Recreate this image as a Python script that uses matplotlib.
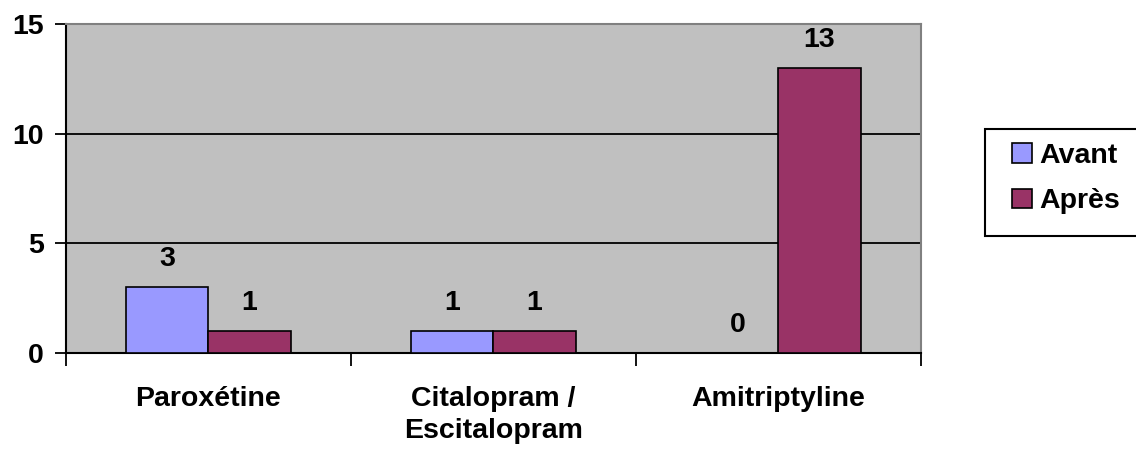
import numpy as np
import matplotlib
matplotlib.use("Agg")
import matplotlib.pyplot as plt
from matplotlib.patches import Rectangle

plt.rcParams['font.family'] = ['Liberation Sans', 'DejaVu Sans']
plt.rcParams['font.weight'] = 'bold'

# data
categories = ["Paroxétine", "Citalopram /\nEscitalopram", "Amitriptyline"]
series_names = ["Avant", "Après"]
avant = [3, 1, 0]
apres = [1, 1, 13]
colors = ["#9999FF", "#993366"]

FS = 20.5
W, H = 1136, 450

fig = plt.figure(figsize=(W / 100, H / 100), dpi=100)
ax = fig.add_axes([66/W, 97/H, 855/W, 329/H])
ax.set_facecolor("#C0C0C0")

x = np.arange(len(categories))
w = 0.288
for i, (vals, name) in enumerate(zip([avant, apres], series_names)):
    ax.bar(x + (i - 0.5) * w, vals, w, color=colors[i], edgecolor="black",
           linewidth=1.2, label=name, zorder=3)
    for xi, v in zip(x + (i - 0.5) * w, vals):
        ax.annotate(str(v), (xi, v), xytext=(0, 11), textcoords="offset points",
                    ha="center", va="bottom", fontsize=FS, fontweight="bold")

ax.set_xlim(-0.5, len(categories) - 0.5)
ax.set_ylim(0, 15)
ax.set_yticks([0, 5, 10, 15])
ax.yaxis.grid(True, color="black", linewidth=1.3, zorder=1)
ax.set_axisbelow(True)

# category boundaries get the ticks, names sit between them
ax.set_xticks(np.arange(len(categories) + 1) - 0.5)
ax.set_xticklabels([])
ax.set_xticks(x, minor=True)
ax.set_xticklabels(categories, minor=True, fontsize=FS, fontweight="bold",
                   linespacing=1.3)
ax.tick_params(axis="x", which="minor", length=0, pad=24)
ax.tick_params(axis="x", which="major", length=9, width=1.3, direction="out")
ax.tick_params(axis="y", length=8, width=1.3, labelsize=FS, pad=8)

for s in ["top", "right"]:
    ax.spines[s].set_color("#808080")
    ax.spines[s].set_linewidth(1.5)
for s in ["left", "bottom"]:
    ax.spines[s].set_color("black")
    ax.spines[s].set_linewidth(1.5)

# legend box runs off the right edge, like the original
fig.patches.append(Rectangle((985/W, 1 - 236/H), 160/W, 107/H,
                             transform=fig.transFigure, facecolor="white",
                             edgecolor="black", linewidth=1.5, zorder=0))
leg = fig.legend(*ax.get_legend_handles_labels(), loc="center left",
                 bbox_to_anchor=(1012/W, 1 - 178.5/H), fontsize=FS,
                 frameon=False, handlelength=0.7, handleheight=0.7,
                 handletextpad=0.25, borderpad=0, labelspacing=0.7,
                 borderaxespad=0)

fig.savefig("out.png", dpi=100)
